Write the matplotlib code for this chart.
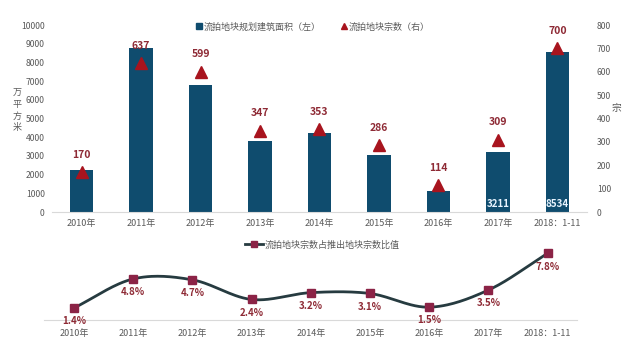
import numpy as np
import matplotlib
matplotlib.use("Agg")
import matplotlib.pyplot as plt
from matplotlib.lines import Line2D

plt.rcParams['font.family'] = ['Noto Sans CJK SC', 'DejaVu Sans']

categories = ["2010年", "2011年", "2012年", "2013年", "2014年", "2015年", "2016年", "2017年", "2018：1-11"]
area = [2250, 8770, 6790, 3800, 4220, 3050, 1120, 3211, 8534]
counts = [170, 637, 599, 347, 353, 286, 114, 309, 700]
ratio = [1.4, 4.8, 4.7, 2.4, 3.2, 3.1, 1.5, 3.5, 7.8]
ratio_labels = ["1.4%", "4.8%", "4.7%", "2.4%", "3.2%", "3.1%", "1.5%", "3.5%", "7.8%"]
inner_labels = {7: "3211", 8: "8534"}

BAR = "#0F4C6E"
RED = "#A8141E"
LBL = "#8E2A35"
GRAY = "#595959"
LINE = "#263B40"
SQ = "#8B2346"

fig = plt.figure(figsize=(6.24, 3.45), dpi=100)
x = np.arange(len(categories))

# ---- top chart ----
ax = fig.add_axes([0.083, 0.3855, 0.858, 0.542])
ax.bar(x, area, width=0.39, color=BAR, zorder=2)
ax.set_xlim(-0.5, len(categories) - 0.5)
ax.set_ylim(0, 10000)
ax.set_yticks(np.arange(0, 10001, 1000))
ax.tick_params(axis='y', length=0, labelsize=6.2, labelcolor=GRAY, pad=5)
ax.set_xticks(x)
ax.set_xticklabels(categories)
ax.tick_params(axis='x', length=0, labelsize=6.5, labelcolor=GRAY, pad=5)
for s in ['top', 'right', 'left']:
    ax.spines[s].set_visible(False)
ax.spines['bottom'].set_color("#D9D9D9")
for i, t in inner_labels.items():
    ax.text(i, 450, t, ha='center', va='center', color="#E8F4FF",
            fontsize=7, fontweight='bold', zorder=4)

ax2 = ax.twinx()
ax2.plot(x, counts, linestyle='none', marker='^', ms=8, color=RED, zorder=5)
ax2.set_ylim(0, 800)
ax2.set_yticks(np.arange(0, 801, 100))
ax2.tick_params(axis='y', length=0, labelsize=6.2, labelcolor=GRAY, pad=7)
for s in ['top', 'right', 'left', 'bottom']:
    ax2.spines[s].set_visible(False)
for i, c in enumerate(counts):
    ax2.annotate(str(c), (i, c), xytext=(0, 9), textcoords='offset points',
                 ha='center', va='bottom', color=LBL, fontsize=7.5, fontweight='bold')

fig.text(0.027, 0.68, "万\n平\n方\n米", ha='center', va='center', fontsize=6.5,
         color=GRAY, linespacing=1.3)
fig.text(0.988, 0.687, "宗", ha='center', va='center', fontsize=7, color=GRAY)

handles = [Line2D([], [], linestyle='none', marker='s', ms=4, color=BAR),
           Line2D([], [], linestyle='none', marker='^', ms=4, color=RED)]
fig.legend(handles, ["流拍地块规划建筑面积（左）", "流拍地块宗数（右）"],
           loc='center', bbox_to_anchor=(0.5, 0.922), ncol=2, frameon=False,
           fontsize=6.5, labelcolor=GRAY, handletextpad=0.1, columnspacing=2.0,
           handlelength=1.0)

# ---- bottom chart ----
bx = fig.add_axes([0.071, 0.0725, 0.854, 0.223])
xs = np.array(x, dtype=float)
ys = np.array(ratio, dtype=float)
# Catmull-Rom smoothing of the line through the data points
px = np.concatenate([[2 * xs[0] - xs[1]], xs, [2 * xs[-1] - xs[-2]]])
py = np.concatenate([[2 * ys[0] - ys[1]], ys, [2 * ys[-1] - ys[-2]]])
cx, cy = [], []
t = np.linspace(0, 1, 30)
for k in range(1, len(px) - 2):
    p0, p1, p2, p3 = [np.array([px[j], py[j]]) for j in (k - 1, k, k + 1, k + 2)]
    for tt in t:
        pt = 0.5 * ((2 * p1) + (-p0 + p2) * tt + (2 * p0 - 5 * p1 + 4 * p2 - p3) * tt ** 2
                    + (-p0 + 3 * p1 - 3 * p2 + p3) * tt ** 3)
        cx.append(pt[0]); cy.append(pt[1])
bx.plot(cx, cy, color=LINE, lw=2, zorder=2)
bx.plot(xs, ys, linestyle='none', marker='s', ms=5.5, color=SQ, zorder=3)
bx.set_xlim(-0.5, len(categories) - 0.5)
bx.set_ylim(0, 9)
bx.set_yticks([])
bx.set_xticks(x)
bx.set_xticklabels(categories)
bx.tick_params(axis='x', length=0, labelsize=6.5, labelcolor=GRAY, pad=6.5)
for s in ['top', 'right', 'left']:
    bx.spines[s].set_visible(False)
bx.spines['bottom'].set_color("#D9D9D9")
for i, (v, lab) in enumerate(zip(ratio, ratio_labels)):
    bx.annotate(lab, (i, v), xytext=(0, -6), textcoords='offset points',
                ha='center', va='top', color=LBL, fontsize=7, fontweight='bold')

h2 = [Line2D([], [], color=LINE, lw=2, marker='s', ms=4, markerfacecolor=SQ,
             markeredgecolor=SQ)]
fig.legend(h2, ["流拍地块宗数占推出地块宗数比值"], loc='center',
           bbox_to_anchor=(0.516, 0.29), frameon=False, fontsize=6.5,
           labelcolor=GRAY, handlelength=2.0, handletextpad=0.2)

fig.savefig("out.png", dpi=100)
